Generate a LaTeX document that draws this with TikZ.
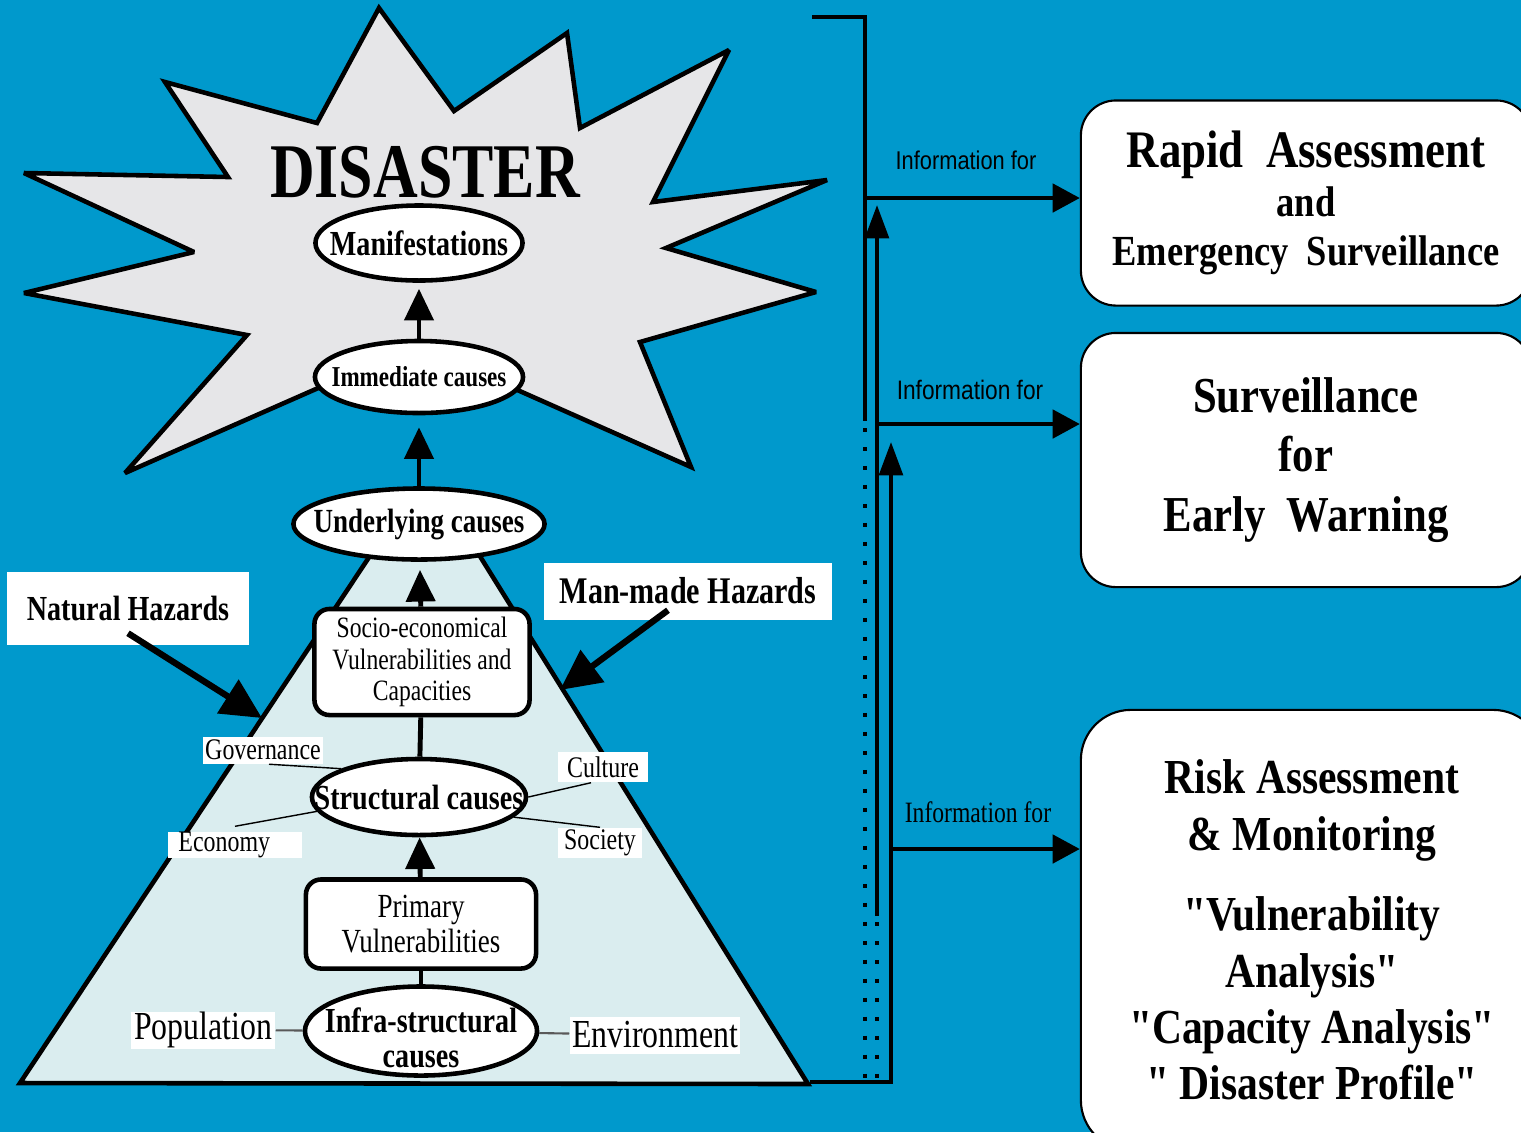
\documentclass[tikz,border=0pt]{standalone}
\usepackage{fontspec}
\setmainfont{Liberation Serif}
\newfontfamily\narrowserif[FakeStretch=0.8]{Liberation Serif}
\newfontfamily\narrowsans[FakeStretch=0.85]{Liberation Sans}
\newfontfamily\boxserif[FakeStretch=0.85]{Liberation Serif}
\usetikzlibrary{arrows.meta}
\usetikzlibrary{shapes.geometric}
\newcommand{\sz}[2]{\fontsize{#1}{#2}\selectfont}

\definecolor{seablue}{HTML}{0099CC}
\definecolor{stargray}{HTML}{E6E6E8}
\definecolor{pyramidcyan}{HTML}{DAEDEF}

\tikzset{
  causetext/.style = {align=center, inner sep=0pt},
  cause/.style 2 args = {ellipse, draw, fill=white, line width=1.3pt, inner sep=0pt, label={[causetext, #1]center:#2}},
  vulnbox/.style = {draw, fill=white, rounded corners=0.15cm, line width=1.3pt, inner sep=0pt, align=center, font=\narrowserif},
  tag/.style = {fill=white, inner sep=0pt, font=\narrowserif\sz{8.5}{10}},
  hazard/.style = {fill=white, inner sep=0pt, font=\narrowserif\bfseries},
  rise/.style = {line width=1.4pt, -{Triangle[length=9pt,width=8.2pt]}},
  tie/.style = {line width=0.4pt},
  hit/.style = {line width=1.8pt, -{Triangle[length=11.5pt,width=11pt]}},
  link/.style = {line width=1.2pt},
  feed/.style = {line width=1.2pt, -{Triangle[length=7.7pt,width=8pt]}},
  feedup/.style = {line width=1.2pt, -{Triangle[length=9.5pt,width=6.7pt]}},
  dots/.style = {line width=1.2pt, dash pattern=on 1.2pt off 4.2pt},
  outcome/.style = {draw, fill=white, rounded corners=0.35cm, line width=0.6pt, inner sep=0pt, align=center, font=\boxserif\bfseries},
}

\begin{document}
\begin{tikzpicture}[x=0.01cm, y=-0.01cm]
    \useasboundingbox (0,0) rectangle (1521,1132);
    \clip (0,0) rectangle (1521,1132);
    \fill[seablue] (0,0) rectangle (1521,1132);

    \draw[line width=1.3pt, fill=stargray, miter limit=3] (379,8) -- (454,111) -- (567,33) -- (580,128) -- (729,50) -- (653,202) -- (827,180) -- (666,248) -- (816,292) -- (640,342) -- (691,467) -- (416,345) -- (125,473) -- (247,335) -- (24,293) -- (194,252) -- (24,173) -- (228,177) -- (165,82) -- (317,123) -- cycle;
    \node[font=\narrowserif\bfseries\sz{22}{22}] (disaster) at (425,172) {DISASTER};

    \draw[line width=1.3pt, fill=pyramidcyan, miter limit=3] (407,500) -- (445,500) -- (808,1084) -- (20,1083) -- cycle;

    \node[cause={font=\narrowserif\bfseries\sz{10}{10}}{Manifestations}, minimum width=2.07cm, minimum height=0.75cm] (manifest) at (419,243) {};
    \node[cause={font=\narrowserif\bfseries\sz{8.2}{9}}{Immediate causes}, minimum width=2.08cm, minimum height=0.72cm] (immediate) at (419,377) {};
    \node[cause={font=\narrowserif\bfseries\sz{9.6}{10}}{Underlying causes}, minimum width=2.51cm, minimum height=0.71cm] (underlying) at (419,524) {};
    \node[vulnbox, font=\narrowserif\sz{8.4}{9}, minimum width=2.15cm, minimum height=1.06cm] (socio) at (422,662) {Socio-economical\\Vulnerabilities and\\Capacities};
    \node[cause={font=\narrowserif\bfseries\sz{10}{10}}{Structural causes}, minimum width=2.14cm, minimum height=0.76cm] (structural) at (419,797) {};
    \node[vulnbox, font=\narrowserif\sz{9.6}{10}, minimum width=2.30cm, minimum height=0.89cm] (primary) at (421,924) {Primary\\Vulnerabilities};
    \node[cause={font=\narrowserif\bfseries\sz{10}{10}, yshift=-0.07cm}{Infra-structural\\causes}, minimum width=2.32cm, minimum height=0.89cm] (infra) at (421,1031) {};

    \draw[rise, shorten >=1.7pt] (immediate) -- (manifest);
    \draw[rise, shorten >=3.4pt] (underlying) -- (immediate);
    \draw[rise, shorten >=2.3pt] (socio) -- (underlying);
    \draw[line width=1.4pt] (structural) -- (socio);
    \draw[rise] (primary) -- (structural);
    \draw[line width=1.4pt] (infra) -- (primary);

    \node[tag, minimum width=1.19cm, minimum height=0.27cm] (governance) at (263,750) {Governance};
    \node[tag, minimum height=0.26cm, text width=1.13cm, inner xsep=0.1cm, align=left] (economy) at (235,845) {Economy};
    \node[tag, minimum width=0.90cm, minimum height=0.30cm] (culture) at (603,767) {Culture};
    \node[tag, minimum width=0.83cm, minimum height=0.30cm] (society) at (600,843) {Society};
    \node[tag, font=\narrowserif\sz{11.3}{12}, minimum width=1.44cm, minimum height=0.37cm] (population) at (203,1030) {Population};
    \node[tag, font=\narrowserif\sz{11.3}{12}, minimum width=1.70cm, minimum height=0.37cm] (environment) at (655,1035) {Environment};

    \draw[tie] ([xshift=0.06cm]governance.south) -- (structural.160);
    \draw[tie] ([yshift=0.05cm]economy.north) -- (structural.188);
    \draw[tie] (structural.east) -- ([xshift=-0.12cm]culture.south);
    \draw[tie] (structural.-12) -- (society.north);
    \draw[tie, gray!70!black, line width=0.6pt] (population) -- (infra);
    \draw[tie, gray!70!black, line width=0.6pt] (infra) -- (environment);

    \node[hazard, font=\narrowserif\bfseries\sz{10}{10}, minimum width=2.42cm, minimum height=0.73cm] (natural) at (128,608) {Natural Hazards};
    \node[hazard, font=\narrowserif\bfseries\sz{10.7}{11}, minimum width=2.87cm, minimum height=0.57cm] (manmade) at (688,591) {Man-made Hazards};
    \coordinate (natural-hit) at (262,718);
    \coordinate (manmade-hit) at (560,690);
    \draw[hit] ([yshift=0.12cm]natural.south) -- (natural-hit);
    \draw[hit] ([xshift=-0.2cm, yshift=0.1cm]manmade.south) -- (manmade-hit);

    \node[outcome, font=\boxserif\bfseries\sz{12.2}{14}, minimum width=4.50cm, minimum height=2.05cm] (rapid) at (1306,203) {{\sz{15}{14}Rapid~~Assessment}\\and\\Emergency~~Surveillance};
    \node[outcome, font=\boxserif\bfseries\sz{14.3}{17}, minimum width=4.50cm, minimum height=2.54cm] (warning) at (1306,460) {Surveillance\\for\\Early~~Warning};
    \node[outcome, rounded corners=0.5cm, font=\boxserif\bfseries\sz{13.9}{16}, minimum width=4.62cm, minimum height=4.40cm] (risk) at (1312,930) {Risk Assessment\\\& Monitoring\\[7pt]"Vulnerability\\Analysis"\\"Capacity Analysis"\\" Disaster Profile"};

    \coordinate (bracket) at (812,17);
    \coordinate (pyr-right) at (810,1082);
    \coordinate (tap1) at (865,198);
    \coordinate (tap2) at (877,424);
    \coordinate (tap3) at (891,849);
    \draw[link] (bracket) -| (865,421);
    \draw[dots] (865,428) -- (865,1078);
    \draw[feedup] (877,916) -- (877,205);
    \draw[dots] (877,922) -- (877,1078);
    \draw[feedup] (pyr-right) -| (891,442);
    \draw[feed] (tap1) -- (tap1 -| rapid.west);
    \draw[feed] (tap2) -- (tap2 -| warning.west);
    \draw[feed] (tap3) -- (tap3 -| risk.west);

    \node[inner sep=0pt, font=\narrowsans\sz{7.3}{8}] (info1) at (966,160) {Information for};
    \node[inner sep=0pt, font=\narrowsans\sz{7.6}{8}] (info2) at (970,390) {Information for};
    \node[inner sep=0pt, font=\narrowserif\sz{8.4}{9}] (info3) at (978,812) {Information for};
\end{tikzpicture}
\end{document}
